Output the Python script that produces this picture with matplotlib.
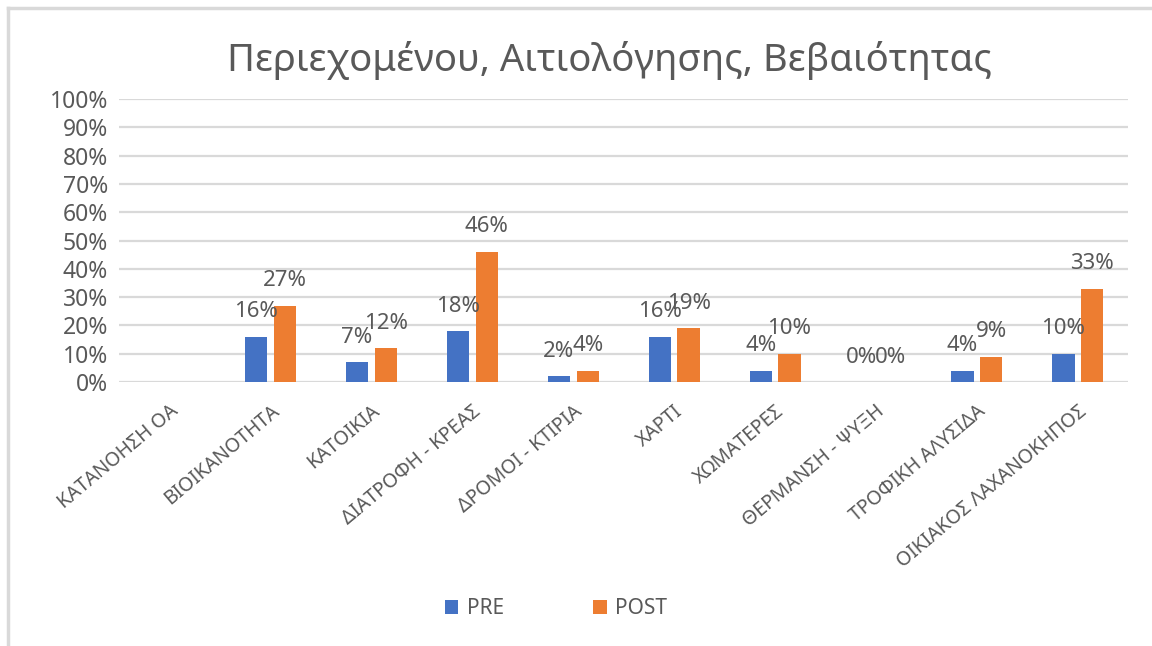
import matplotlib
matplotlib.use("Agg")
import matplotlib.pyplot as plt
from matplotlib.lines import Line2D
import numpy as np

categories = ["ΚΑΤΑΝΟΗΣΗ ΟΑ", "ΒΙΟΙΚΑΝΟΤΗΤΑ", "ΚΑΤΟΙΚΙΑ", "ΔΙΑΤΡΟΦΗ - ΚΡΕΑΣ",
              "ΔΡΟΜΟΙ - ΚΤΙΡΙΑ", "ΧΑΡΤΙ", "ΧΩΜΑΤΕΡΕΣ", "ΘΕΡΜΑΝΣΗ - ΨΥΞΗ",
              "ΤΡΟΦΙΚΗ ΑΛΥΣΙΔΑ", "ΟΙΚΙΑΚΟΣ ΛΑΧΑΝΟΚΗΠΟΣ"]
pre = [np.nan, 0.16, 0.07, 0.18, 0.02, 0.16, 0.04, 0.0, 0.04, 0.10]
post = [np.nan, 0.27, 0.12, 0.46, 0.04, 0.19, 0.10, 0.0, 0.09, 0.33]
title = "Περιεχομένου, Αιτιολόγησης, Βεβαιότητας"

plt.rcParams['font.family'] = ['Noto Sans', 'DejaVu Sans']
grey = '#595959'

fig = plt.figure(figsize=(11.52, 6.46), dpi=100)
ax = fig.add_axes([119 / 1152, 1 - 382 / 646, (1128 - 119) / 1152, (382 - 99) / 646])

x = np.arange(len(categories))
w = 0.22
b1 = ax.bar(x - 0.14, pre, w, color='#4472C4', label='PRE', zorder=3)
b2 = ax.bar(x + 0.145, post, w, color='#ED7D31', label='POST', zorder=3)

for bars, vals in ((b1, pre), (b2, post)):
    for rect, v in zip(bars, vals):
        if np.isnan(v):
            continue
        ax.annotate(f"{v:.0%}", (rect.get_x() + rect.get_width() / 2, v),
                    xytext=(0, 25), textcoords='offset pixels',
                    ha='center', va='center', fontsize=16, color=grey)

ax.set_xlim(-0.5, len(categories) - 0.5)
ax.set_ylim(0, 1.0)
ax.set_yticks(np.arange(0, 1.01, 0.1))
ax.set_yticklabels([f"{t:.0%}" for t in np.arange(0, 1.01, 0.1)], fontsize=16.5, color=grey)
ax.set_xticks(x)
ax.set_xticklabels(categories, rotation=40, ha='right', rotation_mode='anchor',
                   fontsize=14, color=grey)
ax.tick_params(length=0, pad=8)
ax.tick_params(axis='x', pad=14)
ax.grid(axis='y', color='#D9D9D9', linewidth=1.6, zorder=0)
for s in ax.spines.values():
    s.set_visible(False)

fig.text(0.529, 1 - 60 / 646, title, ha='center', va='center', fontsize=27.5, color=grey)

fig.legend(handles=[b1, b2], loc='center', bbox_to_anchor=(556 / 1152, 1 - 609 / 646),
           ncol=2, frameon=False, fontsize=15, labelcolor=grey,
           handlelength=0.65, handleheight=0.65, handletextpad=0.4, columnspacing=4.3)

fig.add_artist(Line2D([8 / 1152, 8 / 1152], [0, 1 - 8 / 646], color='#D9D9D9', linewidth=2.5))
fig.add_artist(Line2D([8 / 1152, 1], [1 - 8 / 646, 1 - 8 / 646], color='#D9D9D9', linewidth=2.5))

fig.savefig("out.png", dpi=100)
